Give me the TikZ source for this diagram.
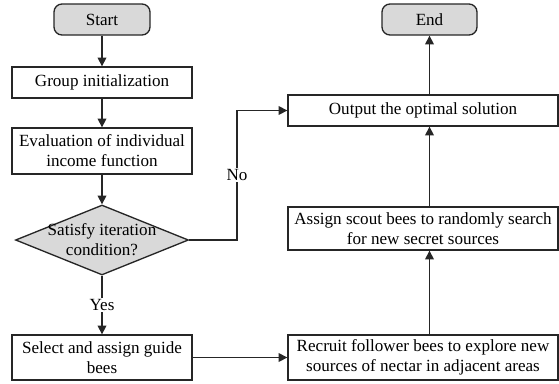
\documentclass[tikz,border=0pt]{standalone}
\usepackage{fontspec}
\setmainfont{Liberation Serif}
\usepackage{tikz}
\usetikzlibrary{shapes.geometric}
\usetikzlibrary{arrows.meta}
\tikzset{every edge/.style={draw}}
\tikzset{box/.style={draw=black!85, line width=1pt, fill=white, align=center, inner sep=1pt}}
\tikzset{terminal/.style={box, fill=gray!30, rounded corners=6pt}}
\tikzset{flow/.style={line width=1pt, draw=black!85, -{Triangle[length=6.5pt,width=6.5pt]}}}

\begin{document}
\begin{tikzpicture}[x=0.75pt, y=-0.75pt, font=\fontsize{12.8}{15}\selectfont]
  \useasboundingbox (0, 0) rectangle (559, 383);

  \node[terminal, minimum width=72pt, minimum height=23.25pt] at (102, 19.5) (start) {Start};
  \node[box, minimum width=135pt, minimum height=23.25pt] at (102, 82.5) (init) {Group initialization};
  \node[box, minimum width=135pt, minimum height=34.5pt] at (102, 151) (eval) {Evaluation of individual\\income function};
  \node[diamond, draw=black!85, line width=1pt, fill=gray!30, inner sep=0pt,
        minimum width=129.75pt, minimum height=52.5pt] at (102, 240) (cond) {};
  \node[align=center, inner sep=0pt] at (cond.center) (condtext) {Satisfy iteration\\condition?};
  \node[box, minimum width=135pt, minimum height=33.75pt] at (102, 357.5) (guide) {Select and assign guide\\bees};

  \node[box, minimum width=202.5pt, minimum height=33.75pt] at (423, 357.5) (recruit) {Recruit follower bees to explore new\\sources of nectar in adjacent areas};
  \node[box, minimum width=202.5pt, minimum height=32.25pt] at (423, 228.5) (scout) {Assign scout bees to randomly search\\for new secret sources};
  \node[box, minimum width=202.5pt, minimum height=23.25pt] at (423, 110.5) (output) {Output the optimal solution};
  \node[terminal, minimum width=71.25pt, minimum height=23.25pt] at (429.5, 19.5) (end) {End};

  \draw[flow] (start) -- (init);
  \draw[flow] (init) -- (eval);
  \draw[flow] (eval) -- (cond);
  \draw[flow] (cond) -- node[fill=white, inner sep=1pt] {Yes} (guide);
  \draw[flow] (guide) -- (recruit);
  \draw[flow] (recruit.north -| end) -- (scout.south -| end);
  \draw[flow] (scout.north -| end) -- (output.south -| end);
  \draw[flow] (output.north -| end) -- (end);

  % no branch
  \coordinate (nobend) at (237, 240);
  \draw[flow] (cond.east) -- (nobend) |- node[pos=0.25, fill=white, inner sep=1pt] {No} (output.west);
\end{tikzpicture}
\end{document}
